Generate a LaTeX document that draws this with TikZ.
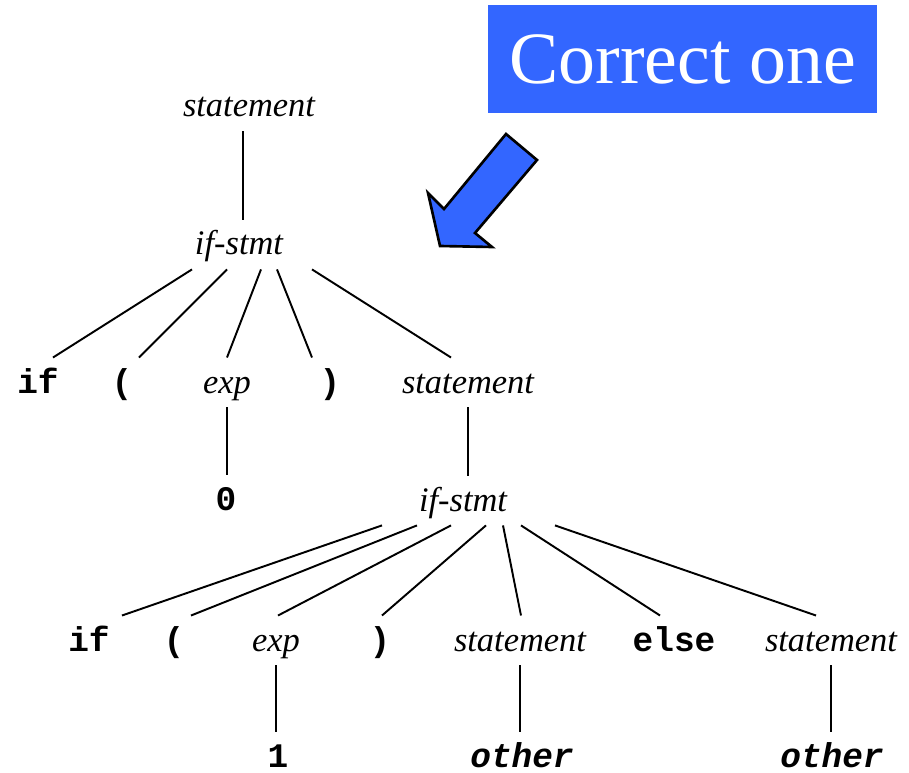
\documentclass[tikz,border=0pt]{standalone}
\usepackage{fontspec}
\setmainfont{Liberation Serif}
\setmonofont{Liberation Mono}
\definecolor{tagblue}{HTML}{3366FF}
\begin{document}
\begin{tikzpicture}[
    x=0.02cm, y=-0.02cm,
    nonterm/.style={inner xsep=0pt, inner ysep=5pt, text height=15pt, text depth=3pt, anchor=base, font=\fontsize{19.6}{22}\selectfont\itshape},
    term/.style={nonterm, font=\fontsize{19.6}{22}\selectfont\ttfamily\bfseries},
    termit/.style={nonterm, font=\fontsize{19.6}{22}\selectfont\ttfamily\bfseries\itshape},
    leaf/.style={inner ysep=0pt, text height=20pt, text depth=0pt},
    branch/.style={line width=1.1pt},
    tag/.style={fill=tagblue, text=white, anchor=north west, minimum width=7.78cm, minimum height=2.16cm, inner sep=0pt, font=\fontsize{42}{46}\selectfont}
]
\useasboundingbox (0,0) rectangle (909,773);

% Label and pointer
\node[tag] (tag) at (488,5) {Correct one};
\filldraw[fill=tagblue, line width=1.5pt, line join=miter]
    (440,246) -- (428,193) -- (444,209) -- (506,134) -- (537,160) -- (475,233) -- (492,247) -- cycle;

% Outer statement
\node[nonterm] (st0) at (249,117) {statement};
\node[nonterm] (is1) at (239,255) {if-stmt};

\node[term] (if1) at (38,393) {if};
\node[term] (lp1) at (122,393) {(};
\node[nonterm] (exp1) at (227,393) {exp};
\node[term] (rp1) at (330,393) {)};
\node[nonterm] (st1) at (468,393) {statement};

\node[term] (zero) at (226,510) {0};
\node[nonterm] (is2) at (463,511) {if-stmt};

% Inner statement
\node[term] (if2) at (89,651) {if};
\node[term] (lp2) at (174,651) {(};
\node[nonterm] (exp2) at (276,651) {exp};
\node[term] (rp2) at (380,651) {)};
\node[nonterm] (st2) at (520,651) {statement};
\node[term] (else) at (674,651) {else};
\node[nonterm] (st3) at (831,651) {statement};

\node[term, leaf] (one) at (278,767) {1};
\node[termit, leaf] (oth1) at (522,767) {other};
\node[termit, leaf] (oth2) at (832,767) {other};

% Branches
\draw[branch] ([shift={(-6,0)}]st0.south) -- ([shift={(-6,0)}]st0.south |- is1.north);
\foreach \c/\a/\b in {if1/-47/15, lp1/-12/17, exp1/22/0, rp1/38/-18, st1/73/-17}
    \draw[branch] ([shift={(\a,0)}]is1.south) -- ([shift={(\b,0)}]\c.north);
\draw[branch] (exp1.south) -- (exp1.south |- zero.north);
\draw[branch] (st1.south) -- (st1.south |- is2.north);
\foreach \c/\a/\b in {if2/-81/33, lp2/-46/17, exp2/-12/2, rp2/23/2, st2/40/1, else/58/-14, st3/92/-15}
    \draw[branch] ([shift={(\a,0)}]is2.south) -- ([shift={(\b,0)}]\c.north);
\draw[branch] (exp2.south) -- (exp2.south |- one.north);
\draw[branch] (st2.south) -- (st2.south |- oth1.north);
\draw[branch] (st3.south) -- (st3.south |- oth2.north);

\end{tikzpicture}
\end{document}
